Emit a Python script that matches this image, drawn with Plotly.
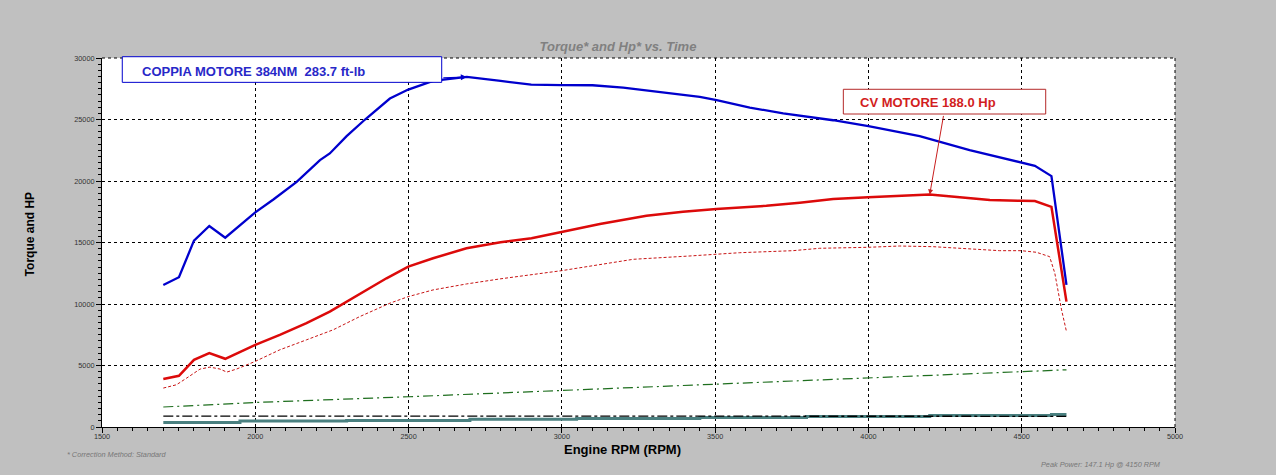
import plotly.graph_objects as go

# torque curve (blue)
rpm_torque = [1700, 1751, 1800, 1850, 1902, 1961, 2000, 2059, 2135, 2211, 2243, 2298, 2358, 2439, 2499,
              2580, 2690, 2800, 2900, 3000, 3100, 3200, 3320, 3450, 3505, 3613, 3722, 3885, 4000, 4167,
              4330, 4396, 4499, 4543, 4597, 4646]
torque = [11550, 12175, 15150, 16340, 15390, 16640, 17450, 18500, 19935, 21700, 22240, 23645, 25000, 26700,
          27435, 28135, 28460, 28135, 27840, 27800, 27785, 27600, 27240, 26835, 26570, 25975, 25490, 24940,
          24455, 23645, 22510, 22100, 21510, 21235, 20400, 11550]

# power curve (red)
rpm_power = [1700, 1751, 1800, 1850, 1902, 2000, 2080, 2167, 2243, 2298, 2363, 2428, 2499, 2580, 2689,
             2800, 2901, 2999, 3124, 3276, 3395, 3504, 3667, 3776, 3885, 3999, 4102, 4200, 4298, 4396,
             4499, 4543, 4597, 4646]
power = [3895, 4165, 5460, 6005, 5545, 6680, 7490, 8440, 9385, 10195, 11145, 12090, 13035, 13720, 14530,
         15015, 15340, 15830, 16500, 17175, 17500, 17720, 17985, 18230, 18530, 18670, 18800, 18910, 18670,
         18450, 18390, 18370, 17900, 10195]

# corrected power (red dashed)
rpm_power2 = [1700, 1743, 1776, 1820, 1852, 1885, 1907, 1939, 1999, 2080, 2167, 2254, 2341, 2439, 2499,
              2580, 2689, 2798, 2999, 3080, 3233, 3418, 3504, 3580, 3754, 3841, 3999, 4102, 4211, 4320,
              4428, 4499, 4548, 4591, 4608, 4630, 4646]
power2 = [3165, 3435, 3975, 4710, 4870, 4710, 4465, 4710, 5325, 6275, 7085, 7900, 8980, 10065, 10600,
          11145, 11630, 12040, 12710, 13035, 13635, 13905, 14065, 14170, 14335, 14530, 14610, 14715, 14660,
          14470, 14335, 14335, 14205, 13850, 12500, 9520, 7760]

# auxiliary channels
rpm_green = [1700, 2000, 2500, 2800, 3000, 3500, 4000, 4100, 4500, 4646]
green = [1625, 1990, 2460, 2760, 2970, 3490, 4000, 4110, 4510, 4650]

rpm_black = [1700, 3000, 4646]
black = [890, 880, 870]

rpm_teal = [1700, 1950, 2298, 2700, 3048, 3450, 3798, 4200, 4597, 4646]
teal = [375, 485, 535, 620, 700, 780, 860, 945, 1025, 1025]

x_ticks = [1500, 2000, 2500, 3000, 3500, 4000, 4500, 5000]
y_ticks = [0, 5000, 10000, 15000, 20000, 25000, 30000]

FONT = "Liberation Sans, Arial, sans-serif"
BLUE = "rgb(0,0,205)"
RED = "rgb(220,10,10)"

fig = go.Figure()
fig.add_trace(go.Scatter(x=rpm_teal, y=teal, mode='lines', line_shape='hv',
                         line=dict(color='rgb(74,128,128)', width=3)))
fig.add_trace(go.Scatter(x=rpm_black, y=black, mode='lines',
                         line=dict(color='black', width=1.3, dash='10px,3px,3px,3px')))
fig.add_trace(go.Scatter(x=rpm_green, y=green, mode='lines',
                         line=dict(color='rgb(30,110,30)', width=1.2, dash='10px,4px,2px,4px')))
fig.add_trace(go.Scatter(x=rpm_power2, y=power2, mode='lines',
                         line=dict(color='rgb(200,20,20)', width=1, dash='3px,2px')))
fig.add_trace(go.Scatter(x=rpm_power, y=power, mode='lines', line=dict(color=RED, width=2.5)))
fig.add_trace(go.Scatter(x=rpm_torque, y=torque, mode='lines', line=dict(color=BLUE, width=2.3)))

tick_font = dict(family=FONT, size=7.3, color='#333')
fig.update_xaxes(range=[1500, 5000], tickvals=x_ticks, tickformat='d', ticks='outside', ticklen=5,
                 tickcolor='black', ticklabelstandoff=-3,
                 showline=True, linecolor='black', linewidth=1, mirror=False, zeroline=False,
                 showgrid=True, gridcolor='black', gridwidth=1, griddash='3px,3px', tickfont=tick_font,
                 minor=dict(dtick=50, ticks='outside', ticklen=3, tickcolor='black', showgrid=False))
fig.update_yaxes(range=[0, 30000], tickvals=y_ticks, tickformat='d', ticks='outside', ticklen=5,
                 tickcolor='black',
                 showline=True, linecolor='black', linewidth=1, mirror=False, zeroline=False,
                 showgrid=True, gridcolor='black', gridwidth=1, griddash='3px,3px', tickfont=tick_font,
                 minor=dict(dtick=500, ticks='outside', ticklen=3, tickcolor='black', showgrid=False))

# dashed frame on top/right (grid lines at range ends)
for shp in [dict(x0=0, x1=1, y0=1, y1=1), dict(x0=1, x1=1, y0=0, y1=1)]:
    fig.add_shape(type='line', xref='paper', yref='paper', line=dict(color='black', width=1, dash='3px,3px'),
                  **shp)

# label boxes
fig.add_shape(type='rect', xref='paper', yref='paper', x0=0.0189, x1=0.3166, y0=0.934, y1=1.0035,
              line=dict(color=BLUE, width=1), fillcolor='white', layer='above')
fig.add_shape(type='rect', xref='paper', yref='paper', x0=0.6909, x1=0.8795, y0=0.8482, y1=0.9152,
              line=dict(color='rgb(180,40,40)', width=1), fillcolor='white', layer='above')

i_t = torque.index(max(torque))
i_p = power.index(max(power))
fig.add_annotation(x=rpm_torque[i_t], y=torque[i_t], text='', showarrow=True, ax=-25, ay=1,
                   arrowhead=2, arrowsize=1, arrowwidth=1.2, arrowcolor=BLUE)
fig.add_annotation(x=rpm_power[i_p], y=power[i_p], text='', showarrow=True, ax=14, ay=-80,
                   arrowhead=2, arrowsize=1, arrowwidth=1, arrowcolor='rgb(200,30,30)')

fig.add_annotation(xref='paper', yref='paper', x=0.0355, y=0.963, xanchor='left', yanchor='middle',
                   text='<b>COPPIA MOTORE 384NM  283.7 ft-lb</b>', showarrow=False,
                   font=dict(family=FONT, size=13, color='rgb(40,40,200)'))
fig.add_annotation(xref='paper', yref='paper', x=0.7049, y=0.8789, xanchor='left', yanchor='middle',
                   text='<b>CV MOTORE 188.0 Hp</b>', showarrow=False,
                   font=dict(family=FONT, size=13, color='rgb(210,30,30)'))

# axis titles and notes
fig.add_annotation(xref='paper', yref='paper', x=0.485, y=(427 - 449.3) / 369, xanchor='center',
                   yanchor='middle', text='<b>Engine RPM (RPM)</b>',
                   showarrow=False, font=dict(family=FONT, size=13, color='black'))
fig.add_annotation(xref='paper', yref='paper', x=-0.0671, y=0.522, xanchor='center', yanchor='middle',
                   text='<b>Torque and HP</b>',
                   textangle=-90, showarrow=False, font=dict(family=FONT, size=12, color='black'))
fig.add_annotation(xref='paper', yref='paper', x=(65 - 102) / 1073, y=(427 - 454.7) / 369,
                   xanchor='left', yanchor='middle', text='<i>* Correction Method: Standard</i>',
                   showarrow=False, font=dict(family=FONT, size=7.3, color='#777'))
fig.add_annotation(xref='paper', yref='paper', x=(1039 - 102) / 1073, y=(427 - 464.7) / 369,
                   xanchor='left', yanchor='middle', text='<i>Peak Power: 147.1 Hp @ 4150 RPM</i>',
                   showarrow=False, font=dict(family=FONT, size=7.3, color='#777'))

fig.update_layout(width=1276, height=475, margin=dict(l=102, r=101, t=58, b=48),
                  paper_bgcolor='#C0C0C0', plot_bgcolor='white', showlegend=False,
                  title=dict(text='Torque* and Hp* vs. Time', x=(618 - 102) / 1073, xref='paper',
                             xanchor='center', y=1 - 46.7 / 475, yref='container', yanchor='middle',
                             font=dict(family=FONT, size=13, color='#808080', weight='bold', style='italic')))
fig.write_html("out.html", config={'displayModeBar': False},
               post_script="document.body.style.margin='0';")
